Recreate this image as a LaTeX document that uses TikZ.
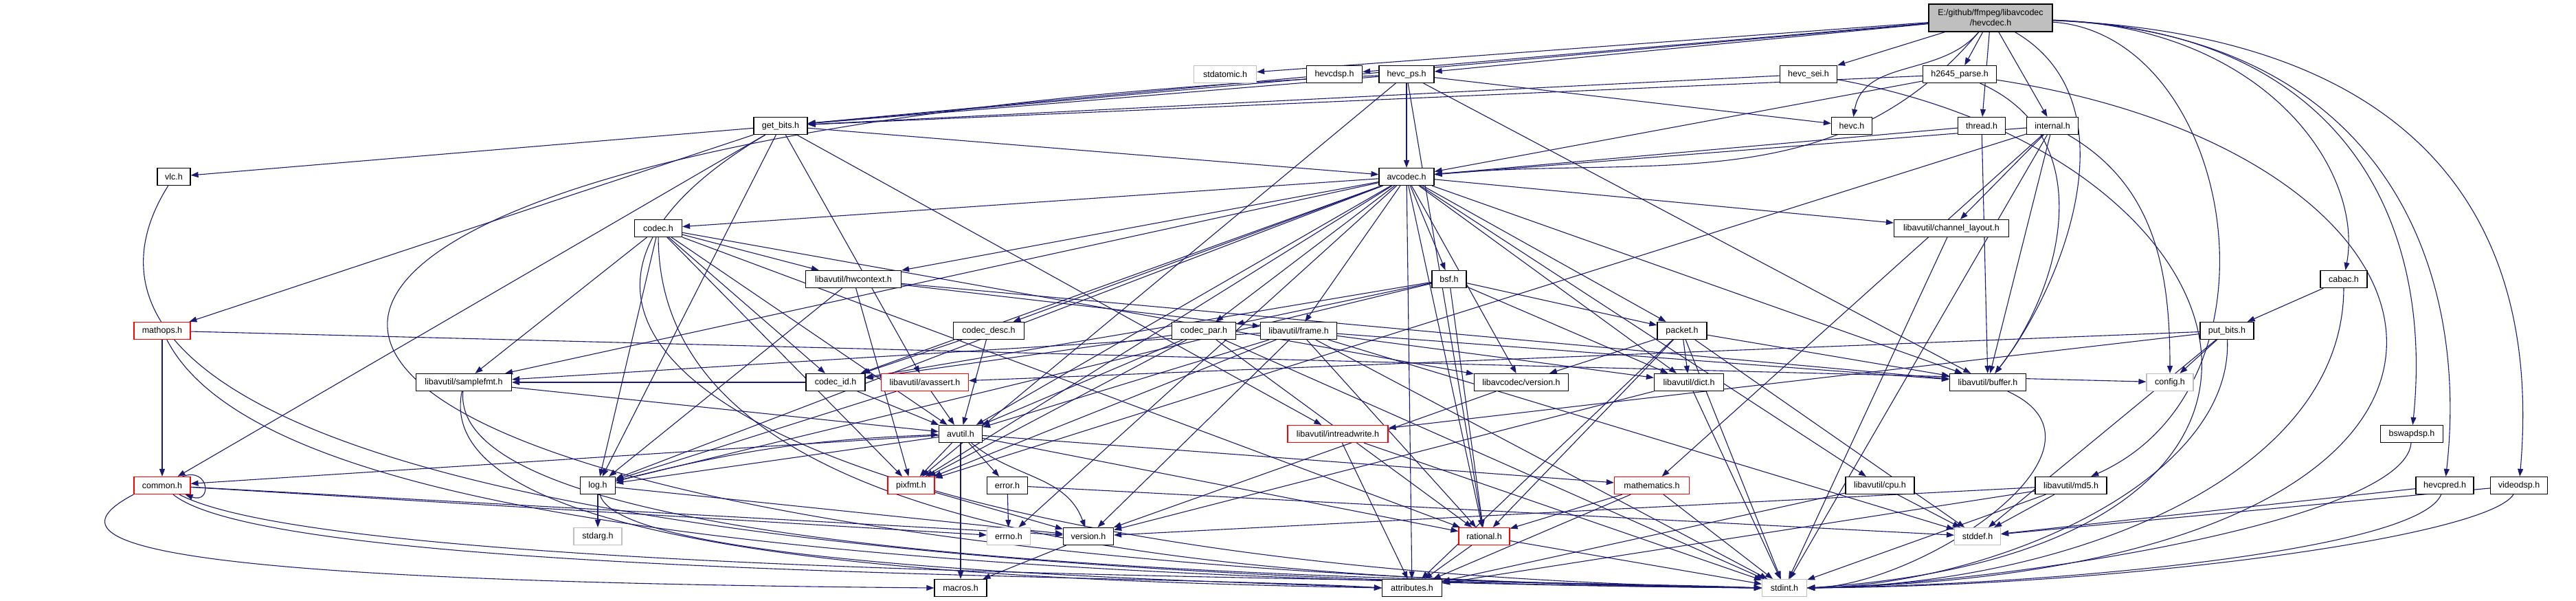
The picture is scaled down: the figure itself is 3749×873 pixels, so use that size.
\documentclass[tikz,border=0pt]{standalone}
\usepackage{fontspec}
\setmainfont{Liberation Sans}
\usetikzlibrary{arrows.meta,backgrounds}
\definecolor{edgecol}{HTML}{191970}
\definecolor{leafgray}{HTML}{BFBFBF}
\definecolor{rootfill}{HTML}{BFBFBF}
\tikzset{
  nb/.style={draw=black, fill=white, line width=1.2pt, minimum height=25pt, inner sep=1pt, font=\fontsize{12.5}{15}\selectfont},
  rednb/.style={nb, draw=red},
  leaf/.style={nb, draw=leafgray},
  edg/.style={draw=edgecol, line width=1.1pt, -{Triangle[length=11pt,width=8pt]}},
}
\begin{document}
\begin{tikzpicture}[x=1pt,y=-1pt]
\useasboundingbox (0,0) rectangle (3749,873);
% nodes
\node[nb, fill=rootfill, minimum width=180pt, minimum height=40pt, align=center] (root) at (2897,26) {E:/github/ffmpeg/libavcodec\\/hevcdec.h};
\node[leaf, minimum width=91pt] (stdatomic) at (1783,108) {stdatomic.h};
\node[nb, minimum width=81pt] (hevcdsp) at (1942,108) {hevcdsp.h};
\node[nb, minimum width=80pt] (hevcps) at (2047,108) {hevc\_ps.h};
\node[nb, minimum width=83pt] (hevcsei) at (2632,108) {hevc\_sei.h};
\node[nb, minimum width=107pt] (h2645) at (2852,108) {h2645\_parse.h};
\node[nb, minimum width=59pt] (hevc) at (2695,183) {hevc.h};
\node[nb, minimum width=69pt] (thread) at (2884,183) {thread.h};
\node[nb, minimum width=75pt] (internal) at (2987,183) {internal.h};
\node[nb, minimum width=78pt] (getbits) at (1136,183) {get\_bits.h};
\node[nb, minimum width=48pt] (vlc) at (253,257) {vlc.h};
\node[nb, minimum width=80pt] (avcodec) at (2047,257) {avcodec.h};
\node[nb, minimum width=167pt] (chlayout) at (2840,332) {libavutil/channel\_layout.h};
\node[nb, minimum width=69pt] (codec) at (958,332) {codec.h};
\node[nb, minimum width=139pt] (hwctx) at (1242,406) {libavutil/hwcontext.h};
\node[nb, minimum width=50pt] (bsf) at (2109,406) {bsf.h};
\node[nb, minimum width=68pt] (cabac) at (3411,406) {cabac.h};
\node[rednb, minimum width=82pt] (mathops) at (236,481) {mathops.h};
\node[nb, minimum width=103pt] (codecdesc) at (1439,481) {codec\_desc.h};
\node[nb, minimum width=93pt] (codecpar) at (1752,481) {codec\_par.h};
\node[nb, minimum width=111pt] (frame) at (1890,481) {libavutil/frame.h};
\node[nb, minimum width=72pt] (packet) at (2448,481) {packet.h};
\node[nb, minimum width=78pt] (putbits) at (3241,481) {put\_bits.h};
\node[nb, minimum width=139pt] (samplefmt) at (675,556) {libavutil/samplefmt.h};
\node[nb, minimum width=86pt] (codecid) at (1216,556) {codec\_id.h};
\node[rednb, minimum width=127pt] (avassert) at (1346,556) {libavutil/avassert.h};
\node[nb, minimum width=137pt] (lavcversion) at (2214,556) {libavcodec/version.h};
\node[nb, minimum width=101pt] (dict) at (2458,556) {libavutil/dict.h};
\node[nb, minimum width=111pt] (buffer) at (2893,556) {libavutil/buffer.h};
\node[leaf, minimum width=68pt] (config) at (3158,556) {config.h};
\node[nb, minimum width=63pt] (avutil) at (1398,631) {avutil.h};
\node[rednb, minimum width=146pt] (intrw) at (1947,631) {libavutil/intreadwrite.h};
\node[nb, minimum width=91pt] (bswapdsp) at (3510,631) {bswapdsp.h};
\node[rednb, minimum width=82pt] (common) at (236,706) {common.h};
\node[nb, minimum width=51pt] (log) at (870,706) {log.h};
\node[rednb, minimum width=68pt] (pixfmt) at (1326,706) {pixfmt.h};
\node[nb, minimum width=59pt] (error) at (1466,706) {error.h};
\node[rednb, minimum width=109pt] (mathematics) at (2404,706) {mathematics.h};
\node[nb, minimum width=100pt] (cpu) at (2736,706) {libavutil/cpu.h};
\node[nb, minimum width=104pt] (md5) at (3014,706) {libavutil/md5.h};
\node[nb, minimum width=84pt] (hevcpred) at (3558,706) {hevcpred.h};
\node[nb, minimum width=83pt] (videodsp) at (3666,706) {videodsp.h};
\node[leaf, minimum width=70pt] (stdarg) at (870,780) {stdarg.h};
\node[leaf, minimum width=63pt] (errno) at (1468,780) {errno.h};
\node[nb, minimum width=73pt] (version) at (1584,780) {version.h};
\node[rednb, minimum width=74pt] (rational) at (2160,780) {rational.h};
\node[leaf, minimum width=67pt] (stddef) at (2878,780) {stddef.h};
\node[nb, minimum width=76pt] (macros) at (1398,855) {macros.h};
\node[nb, minimum width=87pt] (attributes) at (2055,855) {attributes.h};
\node[leaf, minimum width=65pt] (stdint) at (2597,855) {stdint.h};

\begin{pgfonlayer}{background}
% root
\draw[edg] (root) -- (stdatomic);
\draw[edg] (root) -- (hevcdsp);
\draw[edg] (root) -- (hevcps);
\draw[edg] (root) -- (getbits);
\draw[edg] (root) -- (hevcsei);
\draw[edg] (root) to[out=-130,in=80] (hevc);
\draw[edg] (root) -- (h2645);
\draw[edg] (root) -- (thread);
\draw[edg] (root) -- (internal);
\draw[edg] (root) to[out=-130,in=5] (avcodec);
\draw[edg] (root) .. controls (3110,150) and (3000,420) .. (buffer);
\draw[edg] (root) .. controls (3250,50) and (3340,560) .. (md5);
\draw[edg] (root) .. controls (3300,40) and (3440,250) .. (cabac);
\draw[edg] (root) .. controls (3420,45) and (3541,330) .. (bswapdsp);
\draw[edg] (root) .. controls (3480,50) and (3593,400) .. (hevcpred);
\draw[edg] (root) .. controls (3600,55) and (3693,400) .. (videodsp);
% level 1
\draw[edg] (hevcdsp) -- (getbits);
\draw[edg] (hevcps) -- (avcodec);
\draw[edg] (hevcps) -- (getbits);
\draw[edg] (hevcps) -- (hevc);
\draw[edg] (hevcps) -- (buffer);
\draw[edg] (hevcps) -- (pixfmt);
\draw[edg] (hevcps) -- (rational);
\draw[edg] (hevcps) .. controls (0,200) and (0,820) .. (stdint.west);
\draw[edg] (hevcsei) -- (getbits);
\draw[edg] (hevcsei) .. controls (3300,230) and (3470,800) .. (stdint.east);
\draw[edg] (h2645) -- (getbits);
\draw[edg] (h2645) -- (avcodec);
\draw[edg] (h2645) .. controls (3060,200) and (3000,420) .. (buffer);
\draw[edg] (h2645) .. controls (3650,230) and (3760,830) .. (stdint.east);
\draw[edg] (thread) -- (avcodec);
\draw[edg] (thread) -- (buffer);
\draw[edg] (internal) -- (avcodec);
\draw[edg] (internal) -- (buffer);
\draw[edg] (internal) -- (chlayout);
\draw[edg] (internal) -- (mathematics);
\draw[edg] (internal) -- (pixfmt);
\draw[edg] (internal) to[out=-30,in=90] (config);
\draw[edg] (internal) -- (stdint);
% get_bits
\draw[edg] (getbits) -- (avcodec);
\draw[edg] (getbits) -- (vlc);
\draw[edg] (getbits) -- (mathops);
\draw[edg] (getbits) -- (common);
\draw[edg] (getbits) -- (intrw);
\draw[edg] (getbits) -- (log);
\draw[edg] (getbits) -- (avassert);
\draw[edg] (getbits) .. controls (600,500) and (1200,830) .. (stdint.west);
\draw[edg] (vlc) .. controls (100,500) and (300,835) .. (stdint.west);
\draw[edg] (mathops) -- (common);
\draw[edg] (mathops) -- (config);
\draw[edg] (mathops) .. controls (350,700) and (900,840) .. (stdint.west);
% common
\draw[edg] ([xshift=-12pt]common.north east) .. controls +(20:42pt) and +(-20:42pt) .. ([xshift=-8pt]common.south east);
\draw[edg] (common) -- (errno);
\draw[edg] (common) -- (version);
\draw[edg] (common.south west) .. controls (60,790) and (200,845) .. (macros.west);
\draw[edg] (common) .. controls (400,840) and (1700,835) .. (attributes.west);
\draw[edg] (common) .. controls (500,845) and (2200,840) .. (stdint.west);
% log
\draw[edg] (log) -- (stdarg);
\draw[edg] (log) to[bend left=6] (avutil);
\draw[edg] (log) .. controls (900,830) and (1800,845) .. (attributes.west);
\draw[edg] (log) -- (version);
% avutil
\draw[edg] (avutil) -- (common);
\draw[edg] (avutil) -- (error);
\draw[edg] (avutil) -- (macros);
\draw[edg] (avutil) -- (mathematics);
\draw[edg] (avutil) -- (rational);
\draw[edg] (avutil) to[out=-40,in=110] (version);
\draw[edg] (avutil) -- (log);
\draw[edg] (avutil) -- (pixfmt);
% avcodec
\draw[edg] (avcodec) -- (errno);
\draw[edg] (avcodec) -- (samplefmt);
\draw[edg] (avcodec) -- (attributes);
\draw[edg] (avcodec) -- (avutil);
\draw[edg] (avcodec) -- (buffer);
\draw[edg] (avcodec) -- (cpu);
\draw[edg] (avcodec) -- (chlayout);
\draw[edg] (avcodec) -- (dict);
\draw[edg] (avcodec) -- (frame);
\draw[edg] (avcodec) -- (hwctx);
\draw[edg] (avcodec) -- (log);
\draw[edg] (avcodec) -- (pixfmt);
\draw[edg] (avcodec) -- (rational);
\draw[edg] (avcodec) -- (bsf);
\draw[edg] (avcodec) -- (codec);
\draw[edg] (avcodec) -- (codecdesc);
\draw[edg] (avcodec) -- (codecpar);
\draw[edg] (avcodec) -- (codecid);
\draw[edg] (avcodec) -- (packet);
\draw[edg] (avcodec) -- (lavcversion);
% codec
\draw[edg] (codec) -- (avutil);
\draw[edg] (codec) -- (hwctx);
\draw[edg] (codec) -- (log);
\draw[edg] (codec) -- (pixfmt);
\draw[edg] (codec) -- (rational);
\draw[edg] (codec) -- (samplefmt);
\draw[edg] (codec) -- (codecid);
\draw[edg] (codec) -- (lavcversion);
\draw[edg] (codec) .. controls (960,800) and (1800,845) .. (stdint.west);
% hwcontext
\draw[edg] (hwctx) -- (buffer);
\draw[edg] (hwctx) -- (frame);
\draw[edg] (hwctx) -- (log);
\draw[edg] (hwctx) -- (pixfmt);
% bsf
\draw[edg] (bsf) -- (codecid);
\draw[edg] (bsf) -- (codecpar);
\draw[edg] (bsf) -- (packet);
\draw[edg] (bsf) -- (dict);
\draw[edg] (bsf) -- (log);
\draw[edg] (bsf) -- (rational);
% cabac
\draw[edg] (cabac) -- (putbits);
\draw[edg] (cabac) .. controls (3410,700) and (3000,850) .. (stdint.east);
% codec_desc, codec_par
\draw[edg] (codecdesc) -- (avutil);
\draw[edg] (codecdesc) -- (codecid);
\draw[edg] (codecpar) -- (avutil);
\draw[edg] (codecpar) -- (rational);
\draw[edg] (codecpar) -- (pixfmt);
\draw[edg] (codecpar) -- (codecid);
\draw[edg] (codecpar) -- (stdint);
% frame
\draw[edg] (frame) -- (avutil);
\draw[edg] (frame) -- (buffer);
\draw[edg] (frame) -- (dict);
\draw[edg] (frame) -- (rational);
\draw[edg] (frame) -- (samplefmt);
\draw[edg] (frame) -- (pixfmt);
\draw[edg] (frame) -- (version);
\draw[edg] (frame) -- (stddef);
\draw[edg] (frame) -- (stdint);
% packet
\draw[edg] (packet) -- (stddef);
\draw[edg] (packet) -- (stdint);
\draw[edg] (packet) -- (attributes);
\draw[edg] (packet) -- (buffer);
\draw[edg] (packet) -- (dict);
\draw[edg] (packet) -- (rational);
\draw[edg] (packet) -- (lavcversion);
% put_bits
\draw[edg] (putbits) -- (intrw);
\draw[edg] (putbits) -- (avassert);
\draw[edg] (putbits) -- (config);
\draw[edg] (putbits) -- (stddef);
\draw[edg] (putbits) .. controls (3250,700) and (2900,850) .. (stdint.east);
% samplefmt, codec_id, avassert
\draw[edg] (samplefmt) -- (avutil);
\draw[edg] (samplefmt) .. controls (620,820) and (1500,845) .. (attributes.west);
\draw[edg] (samplefmt) .. controls (650,830) and (2000,840) .. (stdint.west);
\draw[edg] (codecid) -- (avutil);
\draw[edg] (codecid) -- (samplefmt);
\draw[edg] (avassert) -- (avutil);
\draw[edg] (avassert) -- (log);
% lower nodes
\draw[edg] (lavcversion) -- (version);
\draw[edg] (dict) -- (stdint);
\draw[edg] (dict) -- (version);
\draw[edg] (buffer) .. controls (3100,650) and (2800,850) .. (stdint.east);
\draw[edg] (intrw) -- (attributes);
\draw[edg] (intrw) -- (stdint);
\draw[edg] (pixfmt) -- (version);
\draw[edg] (error) -- (errno);
\draw[edg] (error) -- (stddef);
\draw[edg] (mathematics) -- (stdint);
\draw[edg] (mathematics) -- (attributes);
\draw[edg] (mathematics) -- (rational);
\draw[edg] (rational) -- (stdint);
\draw[edg] (rational) -- (attributes);
\draw[edg] (cpu) -- (attributes);
\draw[edg] (cpu) -- (stddef);
\draw[edg] (md5) -- (attributes);
\draw[edg] (md5) -- (version);
\draw[edg] (md5) -- (stddef);
\draw[edg] (md5) -- (stdint);
\draw[edg] (hevcpred) -- (stddef);
\draw[edg] (hevcpred) .. controls (3520,800) and (3000,850) .. (stdint.east);
\draw[edg] (videodsp) -- (stddef);
\draw[edg] (videodsp) .. controls (3620,780) and (3100,852) .. (stdint.east);
\draw[edg] (bswapdsp) .. controls (3500,760) and (2900,850) .. (stdint.east);
\draw[edg] (chlayout) -- (stdint);
\draw[edg] (version) -- (macros);
\end{pgfonlayer}
\end{tikzpicture}
\end{document}
